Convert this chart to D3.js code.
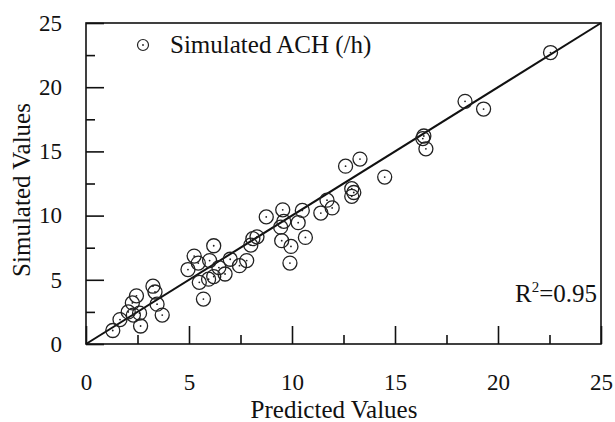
<!DOCTYPE html>
<html>
<head>
<meta charset="utf-8">
<script src="https://cdn.jsdelivr.net/npm/d3@7"></script>
<style>
  html, body { margin: 0; padding: 0; background: #fff; }
  svg { display: block; }
  svg text { font-family: "Liberation Serif", "Times New Roman", "DejaVu Serif", serif; }
</style>
</head>
<body>
<svg id="chart" width="615" height="422"></svg>
<script>
// Predicted vs simulated air change rate (ACH, 1/h)
const predicted = [
  1.3, 1.65, 2.05, 2.25, 2.45, 2.3, 2.6, 2.65, 3.25, 3.35, 3.45, 3.7,
  4.95, 5.25, 5.45, 5.5, 5.7, 5.95, 6.0, 6.2, 6.2, 6.45, 6.75, 7.0, 7.45, 7.8,
  8.0, 8.1, 8.3, 8.75, 9.55, 9.6, 9.45, 9.5, 9.95, 9.9, 10.3, 10.5, 10.65,
  11.4, 11.7, 11.95, 12.6, 13.3, 14.5, 12.9, 13.0, 12.9,
  16.35, 16.4, 16.5, 18.4, 19.3, 22.55
];
const simulated = [
  1.05, 1.9, 2.5, 3.2, 3.75, 2.25, 2.4, 1.4, 4.5, 4.05, 3.1, 2.25,
  5.8, 6.85, 6.3, 4.8, 3.5, 5.05, 6.5, 7.65, 5.25, 5.95, 5.45, 6.6, 6.1, 6.5,
  7.7, 8.2, 8.35, 9.9, 10.45, 9.55, 9.1, 8.05, 7.6, 6.3, 9.45, 10.4, 8.3,
  10.2, 11.2, 10.6, 13.85, 14.4, 13.0, 12.1, 11.8, 11.5,
  16.0, 16.2, 15.2, 18.9, 18.3, 22.7
];
const majorTicks = [0, 5, 10, 15, 20, 25];
const minorTicks = [2.5, 7.5, 12.5, 17.5, 22.5];
const fitLine = [0, 25];
const rSquared = "0.95";
const seriesName = "Simulated ACH (/h)";

const serif = '"Liberation Serif", "Times New Roman", "DejaVu Serif", serif';
const svg = d3.select("#chart");
const margin = { left: 86, right: 14, top: 23, bottom: 78 };
const W = 615, H = 422;

const x = d3.scaleLinear().domain([0, 25]).range([margin.left, W - margin.right]);
const y = d3.scaleLinear().domain([0, 25]).range([H - margin.bottom, margin.top]);

const ink = "#111";

// plot frame
svg.append("rect")
  .attr("x", x(0)).attr("y", y(25))
  .attr("width", x(25) - x(0)).attr("height", y(0) - y(25))
  .attr("fill", "none").attr("stroke", ink).attr("stroke-width", 1.6);

// axes: long inward ticks at the labels, short ones between
const xAxis = d3.axisBottom(x).tickValues(majorTicks).tickSize(-18).tickPadding(30).tickFormat(d3.format("d"));
const gx = svg.append("g").attr("transform", `translate(0,${y(0)})`).call(xAxis);
const xMinor = d3.axisBottom(x).tickValues(minorTicks).tickSize(-9).tickFormat("");
const gxm = svg.append("g").attr("transform", `translate(0,${y(0)})`).call(xMinor);

const yAxis = d3.axisLeft(y).tickValues(majorTicks).tickSize(-18).tickPadding(24).tickFormat(d3.format("d"));
const gy = svg.append("g").attr("transform", `translate(${x(0)},0)`).call(yAxis);
const yMinor = d3.axisLeft(y).tickValues(minorTicks).tickSize(-9).tickFormat("");
const gym = svg.append("g").attr("transform", `translate(${x(0)},0)`).call(yMinor);

[gx, gxm, gy, gym].forEach(g => {
  g.attr("font-family", serif).attr("font-size", 23);
  g.select(".domain").remove();
  g.selectAll(".tick line").attr("stroke", ink).attr("stroke-width", 1.6);
  g.selectAll(".tick text").attr("fill", ink);
});
gx.selectAll(".tick text").attr("dy", "0.71em");

// 1:1 reference line
svg.append("line")
  .attr("x1", x(fitLine[0])).attr("y1", y(fitLine[0]))
  .attr("x2", x(fitLine[1])).attr("y2", y(fitLine[1]))
  .attr("stroke", ink).attr("stroke-width", 2);

// data markers: open circle with a centre dot
const pts = predicted.map((p, i) => ({ p, s: simulated[i] }));
const mk = svg.append("g");
mk.selectAll("circle.ring").data(pts).join("circle")
  .attr("class", "ring")
  .attr("cx", d => x(d.p)).attr("cy", d => y(d.s)).attr("r", 7)
  .attr("fill", "none").attr("stroke", "#222").attr("stroke-width", 1.3);
mk.selectAll("circle.dot").data(pts).join("circle")
  .attr("class", "dot")
  .attr("cx", d => x(d.p)).attr("cy", d => y(d.s)).attr("r", 0.9)
  .attr("fill", "#222");

// legend
svg.append("circle").attr("cx", 143).attr("cy", 45).attr("r", 5.5)
  .attr("fill", "none").attr("stroke", "#222").attr("stroke-width", 1.2);
svg.append("circle").attr("cx", 143).attr("cy", 45).attr("r", 0.9).attr("fill", "#222");
svg.append("text").attr("x", 170).attr("y", 53)
  .attr("font-family", serif).attr("font-size", 25).attr("fill", ink).text(seriesName);

// R² annotation
const rt = svg.append("text").attr("x", 597).attr("y", 302)
  .attr("text-anchor", "end").attr("font-family", serif).attr("font-size", 25).attr("fill", ink);
rt.append("tspan").text("R");
rt.append("tspan").attr("dy", -10).attr("font-size", 15).text("2");
rt.append("tspan").attr("dy", 10).text("=" + rSquared);

// axis titles
svg.append("text").attr("x", 334).attr("y", 418)
  .attr("text-anchor", "middle").attr("font-family", serif).attr("font-size", 25).attr("fill", ink)
  .text("Predicted Values");
svg.append("text")
  .attr("transform", `translate(30,190) rotate(-90)`)
  .attr("text-anchor", "middle").attr("font-family", serif).attr("font-size", 25).attr("fill", ink)
  .text("Simulated Values");
</script>
</body>
</html>
